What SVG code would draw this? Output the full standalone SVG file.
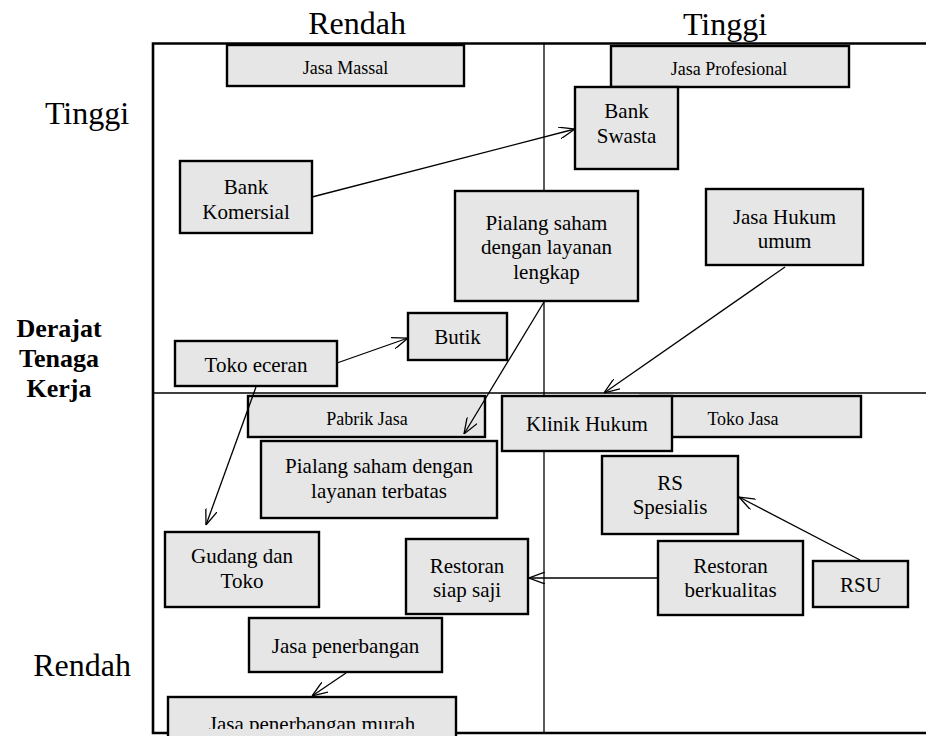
<svg xmlns="http://www.w3.org/2000/svg" width="926" height="736" viewBox="0 0 926 736">
<style>
.b{fill:#e6e6e6;stroke:#000;stroke-width:2.4}
.t{font-family:"Liberation Serif","Times New Roman",serif;font-size:21px;text-anchor:middle;fill:#000}
.s{font-family:"Liberation Serif","Times New Roman",serif;font-size:18px;text-anchor:middle;fill:#000}
.ax{font-family:"Liberation Serif","Times New Roman",serif;font-size:32px;text-anchor:middle;fill:#000}
.bd{font-family:"Liberation Serif","Times New Roman",serif;font-size:26px;font-weight:bold;text-anchor:middle;fill:#000}
.c{fill:none;stroke:#000;stroke-width:1.3}
.fr{fill:none;stroke:#000;stroke-width:2.6}
.dv{fill:none;stroke:#000;stroke-width:1.3}
</style>
<defs>
<marker id="ar" viewBox="0 0 16 12" refX="16" refY="6" markerWidth="16" markerHeight="12" markerUnits="userSpaceOnUse" orient="auto">
<path d="M0,0 L16,6 L0,12" fill="none" stroke="#000" stroke-width="1.3"/>
</marker>
<clipPath id="clipb"><rect x="0" y="0" width="926" height="729"/></clipPath>
</defs>
<rect x="0" y="0" width="926" height="736" fill="#fff"/>
<g id="axes">
<text class="ax" x="357" y="34">Rendah</text>
<text class="ax" x="725" y="35">Tinggi</text>
<text class="ax" x="87" y="124">Tinggi</text>
<text class="ax" x="82" y="676">Rendah</text>
<text class="bd" x="59" y="337">Derajat</text>
<text class="bd" x="59" y="367">Tenaga</text>
<text class="bd" x="59" y="397">Kerja</text>
</g>
<g id="frame">
<path class="fr" d="M926,43.5 L153,43.5 L153,733 L926,733"/>
<line class="dv" x1="544" y1="43" x2="544" y2="733"/>
<line class="dv" x1="153" y1="393" x2="926" y2="393"/>
</g>
<g id="jasa-massal"><rect class="b" x="227" y="45" width="237" height="41"/><text class="s" x="345.5" y="74">Jasa Massal</text></g>
<g id="jasa-profesional"><rect class="b" x="611" y="46" width="238" height="41"/><text class="s" x="729" y="75">Jasa Profesional</text></g>
<g id="bank-swasta"><rect class="b" x="575" y="87" width="103" height="82"/><text class="t" x="626.5" y="118">Bank</text><text class="t" x="626.5" y="143">Swasta</text></g>
<g id="bank-komersial"><rect class="b" x="180" y="161" width="132" height="72"/><text class="t" x="246" y="194">Bank</text><text class="t" x="246" y="219">Komersial</text></g>
<g id="pialang-lengkap"><rect class="b" x="455" y="191" width="183" height="110"/><text class="t" x="546.5" y="230">Pialang saham</text><text class="t" x="546.5" y="254">dengan layanan</text><text class="t" x="546.5" y="279">lengkap</text></g>
<g id="jasa-hukum-umum"><rect class="b" x="706" y="189" width="157" height="76"/><text class="t" x="784.5" y="224">Jasa Hukum</text><text class="t" x="784.5" y="248">umum</text></g>
<g id="butik"><rect class="b" x="408" y="313" width="99" height="47"/><text class="t" x="457.5" y="344">Butik</text></g>
<g id="toko-eceran"><rect class="b" x="175" y="341" width="162" height="45"/><text class="t" x="256" y="372">Toko eceran</text></g>
<g id="pabrik-jasa"><rect class="b" x="248" y="396" width="237" height="41"/><text class="s" x="367" y="425">Pabrik Jasa</text></g>
<g id="pialang-terbatas"><rect class="b" x="261" y="441" width="236" height="77"/><text class="t" x="379" y="473">Pialang saham dengan</text><text class="t" x="379" y="498">layanan terbatas</text></g>
<g id="toko-jasa"><rect class="b" x="640" y="396" width="221" height="41"/><text class="s" x="743" y="425">Toko Jasa</text></g>
<g id="klinik-hukum"><rect class="b" x="502" y="396" width="170" height="55"/><text class="t" x="587" y="431">Klinik Hukum</text></g>
<g id="rs-spesialis"><rect class="b" x="602" y="456" width="136" height="78"/><text class="t" x="670" y="490">RS</text><text class="t" x="670" y="514">Spesialis</text></g>
<g id="restoran-berkualitas"><rect class="b" x="658" y="541" width="145" height="74"/><text class="t" x="730.5" y="573">Restoran</text><text class="t" x="730.5" y="597">berkualitas</text></g>
<g id="rsu"><rect class="b" x="813" y="561" width="95" height="46"/><text class="t" x="860.5" y="592">RSU</text></g>
<g id="gudang-toko"><rect class="b" x="165" y="532" width="154" height="75"/><text class="t" x="242" y="563">Gudang dan</text><text class="t" x="242" y="588">Toko</text></g>
<g id="restoran-siap-saji"><rect class="b" x="406" y="539" width="122" height="75"/><text class="t" x="467" y="573">Restoran</text><text class="t" x="467" y="597">siap saji</text></g>
<g id="jasa-penerbangan"><rect class="b" x="249" y="618" width="193" height="54"/><text class="t" x="345.5" y="653">Jasa penerbangan</text></g>
<g id="jasa-penerbangan-murah"><rect class="b" x="168" y="697" width="288" height="50"/><text class="t" x="312" y="731" clip-path="url(#clipb)">Jasa penerbangan murah</text></g>
<g id="connectors">
<line class="c" x1="312" y1="197" x2="575" y2="129" marker-end="url(#ar)"/>
<line class="c" x1="337" y1="363" x2="408" y2="338" marker-end="url(#ar)"/>
<line class="c" x1="256" y1="387" x2="206" y2="525" marker-end="url(#ar)"/>
<line class="c" x1="544" y1="302" x2="464" y2="434" marker-end="url(#ar)"/>
<line class="c" x1="785" y1="267" x2="604" y2="393" marker-end="url(#ar)"/>
<line class="c" x1="860" y1="560" x2="739" y2="497" marker-end="url(#ar)"/>
<line class="c" x1="658" y1="578" x2="529" y2="578" marker-end="url(#ar)"/>
<line class="c" x1="346" y1="673" x2="312" y2="696" marker-end="url(#ar)"/>
</g>
</svg>
